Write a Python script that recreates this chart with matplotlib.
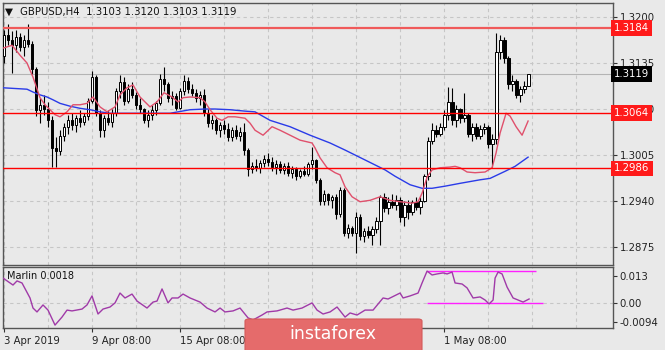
import matplotlib
matplotlib.use('Agg')
import matplotlib.pyplot as plt
import matplotlib.transforms as mtransforms
from matplotlib.patches import FancyBboxPatch
import numpy as np

# GBPUSD H4 candles
opens = [1.3145, 1.3175, 1.3168, 1.3160, 1.3172, 1.3158, 1.3168, 1.3162, 1.3126, 1.3068,
         1.3075, 1.3070, 1.3055, 1.3015, 1.3010, 1.3032, 1.3045, 1.3055, 1.3048, 1.3058,
         1.3052, 1.3060, 1.3082, 1.3115, 1.3065, 1.3040, 1.3058, 1.3052, 1.3065, 1.3095,
         1.3108, 1.3082, 1.3098, 1.3090, 1.3075, 1.3070, 1.3055, 1.3062, 1.3068, 1.3078,
         1.3112, 1.3105, 1.3085, 1.3088, 1.3072, 1.3095, 1.3110, 1.3098, 1.3092, 1.3085,
         1.3090, 1.3065, 1.3050, 1.3055, 1.3040, 1.3048, 1.3042, 1.3030, 1.3040, 1.3032,
         1.3038, 1.3012, 1.2985, 1.2990, 1.2986, 1.2994, 1.3000, 1.2995, 1.2988, 1.2992,
         1.2984, 1.2990, 1.2980, 1.2985, 1.2975, 1.2982, 1.2978, 1.2992, 1.2998, 1.2970,
         1.2940, 1.2950, 1.2942, 1.2945, 1.2922, 1.2955, 1.2895, 1.2902, 1.2895, 1.2918,
         1.2890, 1.2898, 1.2892, 1.2900, 1.2912, 1.2945, 1.2930, 1.2938, 1.2935, 1.2942,
         1.2918, 1.2935, 1.2925, 1.2938, 1.2932, 1.2940, 1.2975, 1.3025, 1.3040, 1.3035,
         1.3045, 1.3062, 1.3080, 1.3055, 1.3070, 1.3058, 1.3062, 1.3035, 1.3045, 1.3032,
         1.3042, 1.3045, 1.3020, 1.3028, 1.3150, 1.3168, 1.3142, 1.3105, 1.3110, 1.3090,
         1.3098, 1.3103]
highs = [1.3182, 1.3190, 1.3180, 1.3182, 1.3178, 1.3175, 1.3190, 1.3166, 1.3130, 1.3085,
         1.3090, 1.3080, 1.3060, 1.3030, 1.3040, 1.3050, 1.3062, 1.3065, 1.3062, 1.3068,
         1.3065, 1.3085, 1.3124, 1.3118, 1.3068, 1.3062, 1.3068, 1.3070, 1.3100, 1.3118,
         1.3115, 1.3105, 1.3108, 1.3094, 1.3085, 1.3072, 1.3068, 1.3075, 1.3082, 1.3120,
         1.3130, 1.3108, 1.3095, 1.3092, 1.3100, 1.3118, 1.3115, 1.3105, 1.3098, 1.3095,
         1.3098, 1.3070, 1.3062, 1.3058, 1.3052, 1.3055, 1.3050, 1.3045, 1.3048, 1.3045,
         1.3050, 1.3015, 1.2995, 1.3000, 1.2998, 1.3005, 1.3008, 1.3002, 1.2998, 1.2996,
         1.2994, 1.2995, 1.2990, 1.2988, 1.2985, 1.2990, 1.2995, 1.3016, 1.3000, 1.2972,
         1.2955, 1.2952, 1.2948, 1.2950, 1.2960, 1.2958, 1.2908, 1.2905, 1.2925, 1.2922,
         1.2902, 1.2905, 1.2905, 1.2918, 1.2948, 1.2952, 1.2945, 1.2950, 1.2948, 1.2945,
         1.2940, 1.2942, 1.2942, 1.2945, 1.2945, 1.2978, 1.3030, 1.3050, 1.3048, 1.3050,
         1.3068, 1.3101, 1.3100, 1.3075, 1.3072, 1.3093, 1.3065, 1.3050, 1.3050, 1.3048,
         1.3050, 1.3048, 1.3035, 1.3177, 1.3175, 1.3172, 1.3145, 1.3118, 1.3112, 1.3102,
         1.3110, 1.3120]
lows = [1.3135, 1.3160, 1.3121, 1.3150, 1.3152, 1.3145, 1.3158, 1.3120, 1.3060, 1.3050,
        1.3062, 1.3045, 1.2988, 1.2988, 1.3005, 1.3025, 1.3035, 1.3040, 1.3038, 1.3045,
        1.3048, 1.3055, 1.3078, 1.3060, 1.3030, 1.3030, 1.3048, 1.3045, 1.3060, 1.3085,
        1.3075, 1.3078, 1.3085, 1.3070, 1.3065, 1.3050, 1.3045, 1.3055, 1.3062, 1.3075,
        1.3095, 1.3080, 1.3075, 1.3068, 1.3070, 1.3090, 1.3092, 1.3088, 1.3080, 1.3075,
        1.3060, 1.3045, 1.3042, 1.3035, 1.3030, 1.3035, 1.3025, 1.3025, 1.3028, 1.3025,
        1.3005, 1.2975, 1.2980, 1.2982, 1.2980, 1.2988, 1.2990, 1.2982, 1.2978, 1.2980,
        1.2978, 1.2975, 1.2972, 1.2970, 1.2972, 1.2975, 1.2975, 1.2985, 1.2965, 1.2935,
        1.2935, 1.2935, 1.2930, 1.2915, 1.2918, 1.2890, 1.2888, 1.2890, 1.2866, 1.2885,
        1.2882, 1.2888, 1.2878, 1.2895, 1.2878, 1.2925, 1.2922, 1.2930, 1.2928, 1.2910,
        1.2905, 1.2915, 1.2920, 1.2928, 1.2922, 1.2938, 1.2970, 1.3020, 1.3030, 1.3032,
        1.3040, 1.3055, 1.3048, 1.3045, 1.3050, 1.3052, 1.3030, 1.3025, 1.3028, 1.3028,
        1.3035, 1.3015, 1.2988, 1.3020, 1.3140, 1.3135, 1.3098, 1.3095, 1.3085, 1.3080,
        1.3092, 1.3103]
closes = [1.3175, 1.3168, 1.3160, 1.3172, 1.3158, 1.3168, 1.3162, 1.3126, 1.3068, 1.3075,
          1.3070, 1.3055, 1.3015, 1.3010, 1.3032, 1.3045, 1.3055, 1.3048, 1.3058, 1.3052,
          1.3060, 1.3082, 1.3115, 1.3065, 1.3040, 1.3058, 1.3052, 1.3065, 1.3095, 1.3108,
          1.3082, 1.3098, 1.3090, 1.3075, 1.3070, 1.3055, 1.3062, 1.3068, 1.3078, 1.3112,
          1.3105, 1.3085, 1.3088, 1.3072, 1.3095, 1.3110, 1.3098, 1.3092, 1.3085, 1.3090,
          1.3065, 1.3050, 1.3055, 1.3040, 1.3048, 1.3042, 1.3030, 1.3040, 1.3032, 1.3038,
          1.3012, 1.2985, 1.2990, 1.2986, 1.2994, 1.3000, 1.2995, 1.2988, 1.2992, 1.2984,
          1.2990, 1.2980, 1.2985, 1.2975, 1.2982, 1.2978, 1.2992, 1.2998, 1.2970, 1.2940,
          1.2950, 1.2942, 1.2945, 1.2922, 1.2955, 1.2895, 1.2902, 1.2895, 1.2918, 1.2890,
          1.2898, 1.2892, 1.2900, 1.2912, 1.2945, 1.2930, 1.2938, 1.2935, 1.2942, 1.2918,
          1.2935, 1.2925, 1.2938, 1.2932, 1.2940, 1.2975, 1.3025, 1.3040, 1.3035, 1.3045,
          1.3062, 1.3080, 1.3055, 1.3070, 1.3058, 1.3062, 1.3035, 1.3045, 1.3032, 1.3042,
          1.3045, 1.3020, 1.3028, 1.3150, 1.3168, 1.3142, 1.3105, 1.3110, 1.3090, 1.3098,
          1.3103, 1.3119]

# moving averages, sampled along the bars (bar index, price)
red_ma_x = [-0.25, 2, 4, 5.75, 7.25, 9, 10.25, 11.5, 12.75, 14, 15.75, 17.25, 19, 20.75,
            22.25, 24, 25.75, 27.75, 29, 30.75, 32.25, 34, 36.5, 38.25, 40, 42, 43.5, 44.75,
            46.5, 49, 50.25, 51.5, 53.25, 54.5, 56, 57.75, 60.25, 61.5, 62.75, 64.75, 67,
            69, 71.5, 74, 77, 77.75, 79, 80.75, 82.75, 84, 85.25, 87, 89, 91.5, 94, 96.5,
            99, 102, 103.5, 104.5, 105.75, 107, 109, 111.5, 112.75, 114, 115.75, 117.75,
            120.25, 122, 123, 124, 125.5, 126.5, 128, 129.5, 131]
red_ma_y = [1.3156, 1.3160, 1.3146, 1.3135, 1.3115, 1.3086, 1.3076, 1.3069, 1.3062, 1.3059,
            1.3066, 1.3076, 1.3076, 1.3078, 1.3087, 1.3073, 1.3066, 1.3073, 1.3090, 1.3100,
            1.3104, 1.3087, 1.3073, 1.3080, 1.3093, 1.3087, 1.3080, 1.3086, 1.3087, 1.3086,
            1.3080, 1.3069, 1.3057, 1.3054, 1.3059, 1.3059, 1.3057, 1.3050, 1.3040, 1.3033,
            1.3045, 1.3040, 1.3033, 1.3026, 1.3022, 1.3015, 1.3001, 1.2987, 1.2980, 1.2977,
            1.2960, 1.2946, 1.2939, 1.2941, 1.2946, 1.2941, 1.2939, 1.2937, 1.2939, 1.2951,
            1.2974, 1.2984, 1.2987, 1.2988, 1.2989, 1.2987, 1.2981, 1.2980, 1.2981, 1.2987,
            1.3008, 1.3036, 1.3064, 1.3060, 1.3045, 1.3033, 1.3053]
blue_ma_x = [-0.25, 5.75, 7.25, 9, 10.75, 12.25, 14, 16.5, 19, 21.5, 24, 26.5, 41.5, 43.5,
             46.5, 50.25, 52.75, 56.5, 60.25, 62.75, 66.5, 71.5, 76.5, 81.5, 85.25, 90.25,
             95.25, 97.75, 101.5, 104.5, 107, 110.25, 114, 119, 121.5, 125.25, 127.75, 131]
blue_ma_y = [1.3100, 1.3098, 1.3094, 1.3090, 1.3087, 1.3083, 1.3078, 1.3074, 1.3071, 1.3069,
             1.3066, 1.3064, 1.3064, 1.3066, 1.3069, 1.3070, 1.3070, 1.3069, 1.3067, 1.3066,
             1.3054, 1.3045, 1.3033, 1.3022, 1.3012, 1.2998, 1.2984, 1.2975, 1.2963, 1.2958,
             1.2958, 1.2961, 1.2965, 1.2970, 1.2972, 1.2982, 1.2989, 1.3002]

levels = [1.3184, 1.3064, 1.2986]

# Marlin oscillator (bar index, value)
marlin_x = [-0.25, 2.25, 3.25, 4.5, 6.5, 7.25, 8.25, 9.75, 11, 12.75, 14.5, 15.75, 17, 19.5,
            20.75, 22, 23.5, 24.75, 26.5, 27.75, 29, 30.25, 32, 33.25, 35.75, 37.25, 38.25,
            39.5, 41, 42, 43.5, 44.75, 46.5, 49, 50.75, 52.75, 54, 55.25, 57.25, 59, 61,
            62.25, 64.5, 65.75, 68.25, 70.75, 72.25, 74.5, 77, 78.25, 79.75, 81.5, 83.25,
            85.25, 86.5, 88.25, 90.25, 92.25, 94.75, 96, 99, 99.75, 101.5, 103.5, 104.5,
            105.75, 107, 108.25, 109.75, 110.75, 112, 112.75, 114.5, 115.75, 117.25, 119,
            120.25, 121.25, 122.25, 122.75, 123.5, 124.5, 125.75, 127.25, 128.5, 129.75, 131.25]
marlin_v = [0.0120, 0.0086, 0.0106, 0.0096, 0.0023, -0.0026, -0.0045, -0.0011, -0.0036,
            -0.0109, -0.0070, -0.0036, -0.0040, -0.0031, -0.0011, 0.0033, -0.0055, -0.0031,
            -0.0021, -0.0001, 0.0047, 0.0023, 0.0042, 0.0008, -0.0026, 0.0003, 0.0008, 0.0067,
            -0.0001, 0.0023, 0.0023, 0.0042, 0.0023, 0.0003, -0.0026, -0.0045, -0.0026,
            -0.0045, -0.0040, -0.0026, -0.0074, -0.0084, -0.0060, -0.0045, -0.0040, -0.0026,
            -0.0036, -0.0026, -0.0001, -0.0036, -0.0055, -0.0045, -0.0021, -0.0070, -0.0050,
            -0.0060, -0.0036, -0.0036, 0.0023, 0.0018, 0.0047, 0.0023, 0.0033, 0.0047, 0.0096,
            0.0154, 0.0135, 0.0140, 0.0145, 0.0140, 0.0149, 0.0096, 0.0091, 0.0072, 0.0023,
            0.0028, 0.0013, -0.0006, 0.0013, 0.0120, 0.0149, 0.0140, 0.0076, 0.0023, 0.0013,
            0.0003, 0.0018]
marlin_top = 0.0154
marlin_bottom = 0.0

price_ticks = [1.3200, 1.3135, 1.3070, 1.3005, 1.2940, 1.2875]
marlin_ticks = [0.013, 0.0, -0.0094]
marlin_labels = ['0.013', '0.00', '-0.0094']
time_ticks = {0: '3 Apr 2019', 22: '9 Apr 08:00', 44: '15 Apr 08:00', 110: '1 May 08:00'}

W, H = 665, 350
bg = '#e9e9e9'
plt.rcParams['font.family'] = 'DejaVu Sans'

fig = plt.figure(figsize=(W / 100, H / 100), dpi=100, facecolor=bg)


def fig_box(x0, y0, x1, y1):
    # pixel box (top-left origin) -> figure fraction rect
    return [x0 / W, 1 - y1 / H, (x1 - x0) / W, (y1 - y0) / H]


ax = fig.add_axes(fig_box(2.5, 3, 612.5, 265), facecolor=bg)
ax2 = fig.add_axes(fig_box(2.5, 267, 612.5, 328), facecolor=bg, sharex=ax)

xmin, xmax = -0.375, 152.1
ax.set_xlim(xmin, xmax)
ax.set_ylim(1.28496, 1.32198)
ax2.set_ylim(-0.01232, 0.01738)

grid_kw = dict(color='#c6c6c6', lw=0.8, ls=(0, (3, 3)), zorder=0)
for gx in range(0, 150, 11):
    ax.axvline(gx, **grid_kw)
    ax2.axvline(gx, **grid_kw)
for gy in price_ticks:
    ax.axhline(gy, **grid_kw)
ax2.axhline(0.0, **grid_kw)

# candles
o, h, l, c = map(np.array, (opens, highs, lows, closes))
idx = np.arange(len(c))
up = c >= o
ax.vlines(idx, l, h, color='black', lw=0.8, zorder=3)
ax.bar(idx[up], (c - o)[up], bottom=o[up], width=0.72, color='white',
       edgecolor='black', lw=0.7, zorder=4)
ax.bar(idx[~up], (c - o)[~up], bottom=o[~up], width=0.72, color='black',
       edgecolor='black', lw=0.7, zorder=4)

# indicators
ax.plot(blue_ma_x, blue_ma_y, color='#2a3be8', lw=1.0, zorder=5)
ax.plot(red_ma_x, red_ma_y, color='#e0506c', lw=1.0, zorder=5)
ax.axhline(levels[0], color='#f05a5a', lw=1.6, zorder=6)
for lv in levels[1:]:
    ax.axhline(lv, color='#ff0000', lw=1.0, zorder=6)
ax.axhline(c[-1], color='#b4b4b4', lw=0.8, zorder=1)

ax2.plot(marlin_x, marlin_v, color='#a03aa8', lw=1.0, zorder=5)
ax2.hlines(marlin_top, 105.75, 133, color='#ff20ff', lw=1.0, zorder=4)
ax2.hlines(marlin_bottom, 105.75, 134.75, color='#ff20ff', lw=1.0, zorder=4)

# axes styling
for a in (ax, ax2):
    for s in a.spines.values():
        s.set_color('#555555')
        s.set_linewidth(1.0)
    a.yaxis.tick_right()
    a.tick_params(axis='y', length=3, width=0.8, pad=2, labelsize=7.3,
                  colors='#333333', labelcolor='#222222')

ax.set_yticks(price_ticks)
ax.set_yticklabels([f'{t:.4f}' for t in price_ticks])
ax.tick_params(axis='x', bottom=False, labelbottom=False)

ax2.set_yticks(marlin_ticks)
ax2.set_yticklabels(marlin_labels)
ax2.set_xticks(list(time_ticks.keys()))
ax2.set_xticklabels(list(time_ticks.values()), ha='left')
ax2.tick_params(axis='x', length=3, width=0.8, pad=3, labelsize=7.3,
                colors='#333333', labelcolor='#222222')

# price boxes on the right scale
trans = mtransforms.blended_transform_factory(ax.transAxes, ax.transData)
for lv in levels:
    ax.text(1.003, lv, f'{lv:.4f}', transform=trans, ha='left', va='center',
            fontsize=7.3, color='white', zorder=10, clip_on=False,
            bbox=dict(boxstyle='square,pad=0.28', fc='#ff1a1a', ec='none'))
ax.text(1.003, c[-1], f'{c[-1]:.4f}', transform=trans, ha='left', va='center',
        fontsize=7.3, color='white', zorder=10, clip_on=False,
        bbox=dict(boxstyle='square,pad=0.28', fc='black', ec='none'))

# header texts
fig.text(5 / W, 1 - 12 / H, '\u25bc', fontsize=7.5, va='center', color='#111111')
fig.text(20 / W, 1 - 12 / H,
         f'GBPUSD,H4  {o[-1]:.4f} {h[-1]:.4f} {l[-1]:.4f} {c[-1]:.4f}',
         fontsize=7.3, va='center', color='#111111')
ax2.text(0.008, 0.86, f'Marlin {marlin_v[-1]:.4f}', transform=ax2.transAxes,
         fontsize=7.0, va='center', color='#111111', zorder=10)

# instaforex badge
logo = FancyBboxPatch((245 / W, 1 - 352 / H), 177 / W, 33 / H,
                      boxstyle='round,pad=0,rounding_size=0.006',
                      transform=fig.transFigure, fc='#e56b6b', ec='#d45a5a',
                      lw=0.8, zorder=20)
fig.patches.append(logo)
fig.text(333 / W, 1 - 334 / H, 'instaforex', fontsize=12.5, color='white',
         ha='center', va='center', zorder=21)

fig.savefig('out.png', dpi=100, facecolor=bg)
